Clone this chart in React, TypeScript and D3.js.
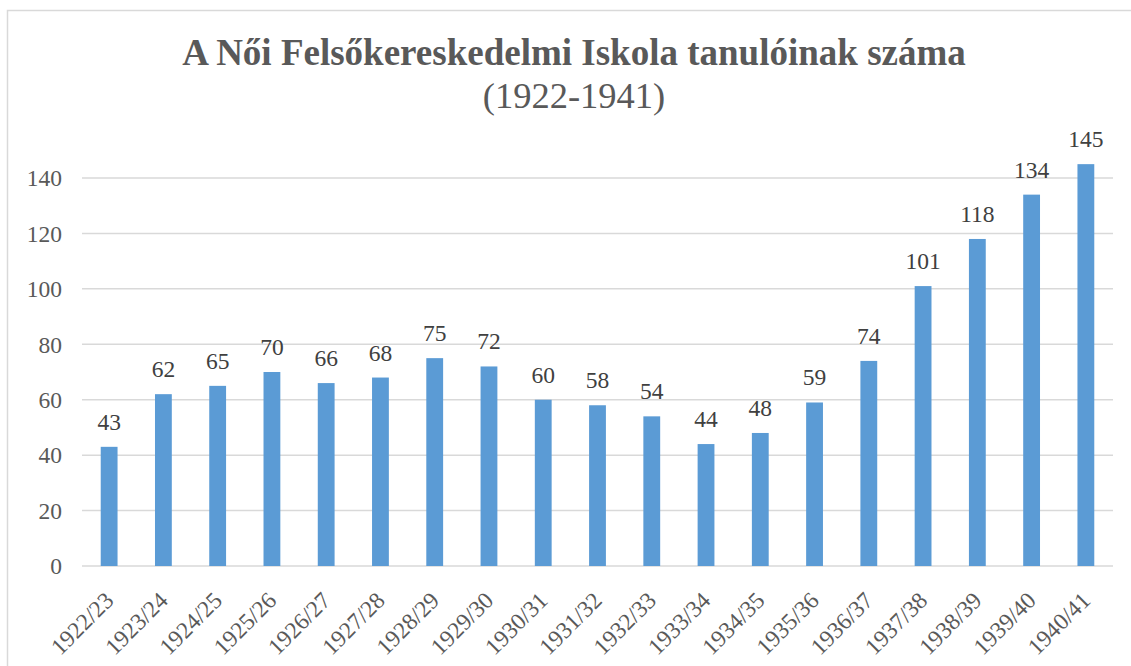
import React, { useRef, useEffect } from "react";
import * as d3 from "d3";

const years = [
  "1922/23", "1923/24", "1924/25", "1925/26", "1926/27", "1927/28", "1928/29",
  "1929/30", "1930/31", "1931/32", "1932/33", "1933/34", "1934/35", "1935/36",
  "1936/37", "1937/38", "1938/39", "1939/40", "1940/41",
];
const students = [43, 62, 65, 70, 66, 68, 75, 72, 60, 58, 54, 44, 48, 59, 74, 101, 118, 134, 145];
const yTicks = [0, 20, 40, 60, 80, 100, 120, 140];

const titleText = "A Női Felsőkereskedelmi Iskola tanulóinak száma";
const subtitleText = "(1922-1941)";

export default function App() {
  const svgRef = useRef<SVGSVGElement>(null);

  useEffect(() => {
    const width = 1131;
    const height = 666;
    const marginLeft = 82;
    const marginRight = 18;
    const yTop = 178;
    const yBottom = 566;
    const font = "Liberation Serif, Times New Roman, DejaVu Serif, serif";
    const textColor = "#595959";

    const svg = d3.select(svgRef.current)
      .attr("width", width)
      .attr("height", height)
      .attr("viewBox", [0, 0, width, height])
      .style("position", "absolute")
      .style("left", "0px")
      .style("top", "0px")
      .attr("font-family", font);

    svg.selectAll("*").remove();

    svg.append("rect")
      .attr("width", width).attr("height", height).attr("fill", "#fff");

    // outer chart border
    svg.append("rect")
      .attr("x", 7.5).attr("y", 10.5)
      .attr("width", 1130).attr("height", 670)
      .attr("fill", "none").attr("stroke", "#D9D9D9").attr("stroke-width", 1.5);

    const x = d3.scaleBand()
      .domain(years)
      .range([marginLeft, width - marginRight])
      .paddingInner(0.69)
      .paddingOuter(0.345);

    const y = d3.scaleLinear().domain([0, 140]).range([yBottom, yTop]);

    // gridlines
    svg.append("g")
      .selectAll("line")
      .data(yTicks)
      .join("line")
        .attr("x1", marginLeft)
        .attr("x2", width - marginRight)
        .attr("y1", d => y(d))
        .attr("y2", d => y(d))
        .attr("stroke", "#D9D9D9")
        .attr("stroke-width", 1.5);

    // y tick labels
    svg.append("g")
      .selectAll("text")
      .data(yTicks)
      .join("text")
        .attr("x", 62)
        .attr("y", d => y(d))
        .attr("dy", "0.35em")
        .attr("text-anchor", "end")
        .attr("fill", textColor)
        .attr("font-size", 23.5)
        .text(d => d);

    // bars
    svg.append("g")
      .attr("fill", "#5B9BD5")
      .selectAll("rect")
      .data(years)
      .join("rect")
        .attr("x", d => x(d)!)
        .attr("y", (d, i) => y(students[i]))
        .attr("width", x.bandwidth())
        .attr("height", (d, i) => y(0) - y(students[i]));

    // data labels
    svg.append("g")
      .selectAll("text")
      .data(years)
      .join("text")
        .attr("x", d => x(d)! + x.bandwidth() / 2)
        .attr("y", (d, i) => y(students[i]) - 17)
        .attr("text-anchor", "middle")
        .attr("fill", "#404040")
        .attr("font-size", 23.5)
        .text((d, i) => students[i]);

    // x labels, rotated
    svg.append("g")
      .selectAll("text")
      .data(years)
      .join("text")
        .attr("transform", d => `translate(${x(d)! + x.bandwidth() / 2},${yBottom + 30}) rotate(-45)`)
        .attr("text-anchor", "end")
        .attr("dy", "0.35em")
        .attr("fill", textColor)
        .attr("font-size", 23.5)
        .text(d => d);

    // title
    svg.append("text")
      .attr("x", 574)
      .attr("y", 65)
      .attr("text-anchor", "middle")
      .attr("fill", textColor)
      .attr("font-size", 37)
      .attr("font-weight", "bold")
      .text(titleText);

    svg.append("text")
      .attr("x", 574)
      .attr("y", 108)
      .attr("text-anchor", "middle")
      .attr("fill", textColor)
      .attr("font-size", 36.5)
      .text(subtitleText);
  }, []);

  return <svg ref={svgRef}></svg>;
}
